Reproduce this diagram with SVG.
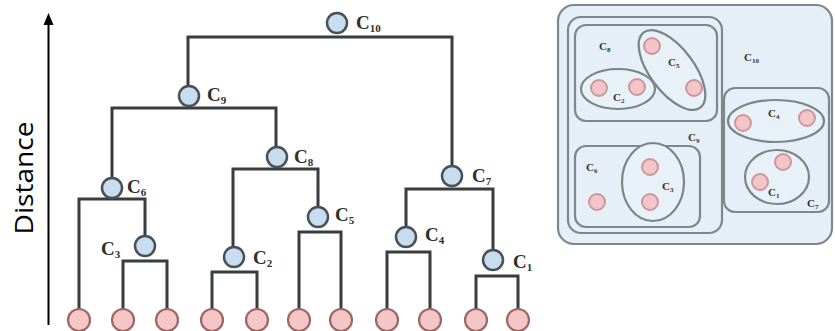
<svg xmlns="http://www.w3.org/2000/svg" width="835" height="331" viewBox="0 0 835 331">
<defs>
<style>
.ln{stroke:#3a3d40;stroke-width:3;fill:none;stroke-linecap:square}
.in{fill:#c8def0;stroke:#4a5056;stroke-width:2.5}
.lf{fill:#f5c6c8;stroke:#9c6864;stroke-width:2.2}
.lbl{font-family:"Liberation Serif",serif;font-weight:bold;font-size:19px;fill:#2e2e2e}
.sub{font-size:11px}
.box{fill:#e6eff7;stroke:#7d888c;stroke-width:2.2}
.ell{fill:#e9f1f8;stroke:#7a8588;stroke-width:2.2}
.dot{fill:#f3c4c9;stroke:#c99898;stroke-width:2}
.sl{font-family:"Liberation Serif",serif;font-weight:bold;font-size:11px;fill:#333}
.ss{font-size:7px}
</style>
</defs>
<rect width="835" height="331" fill="#fff"/>

<g id="axis">
<line x1="48.5" y1="325" x2="48.5" y2="25" stroke="#000" stroke-width="2"/>
<path d="M48.5,13 L53.5,25 L43.5,25 Z" fill="#000"/>
<text transform="translate(33,178) rotate(-90)" text-anchor="middle" font-family="'Open Sans',sans-serif" font-size="26" fill="#000" textLength="113" lengthAdjust="spacingAndGlyphs">Distance</text>
</g>

<g id="connectors">
<path class="ln" d="M188,86 V37 H452 V166"/>
<path class="ln" d="M112,178 V108 H276 V147"/>
<path class="ln" d="M233,247 V169 H318 V207"/>
<path class="ln" d="M79,309 V199 H145 V236"/>
<path class="ln" d="M123,309 V261 H167 V309"/>
<path class="ln" d="M212,309 V272 H257 V309"/>
<path class="ln" d="M299,309 V232 H341 V309"/>
<path class="ln" d="M406,227 V189 H493 V250"/>
<path class="ln" d="M387,309 V252 H430 V309"/>
<path class="ln" d="M476,309 V276 H518 V309"/>
</g>

<g id="C10"><circle class="in" cx="337" cy="23" r="10"/><text class="lbl" x="356" y="29">C<tspan class="sub" dy="3">10</tspan></text></g>
<g id="C9"><circle class="in" cx="189" cy="96" r="10"/><text class="lbl" x="207" y="101">C<tspan class="sub" dy="3">9</tspan></text></g>
<g id="C8"><circle class="in" cx="277" cy="157" r="10"/><text class="lbl" x="294" y="163">C<tspan class="sub" dy="3">8</tspan></text></g>
<g id="C6"><circle class="in" cx="112" cy="188" r="10"/><text class="lbl" x="127" y="193">C<tspan class="sub" dy="3">6</tspan></text></g>
<g id="C7"><circle class="in" cx="452" cy="176" r="10"/><text class="lbl" x="472" y="182">C<tspan class="sub" dy="3">7</tspan></text></g>
<g id="C5"><circle class="in" cx="318" cy="217" r="10"/><text class="lbl" x="335" y="221">C<tspan class="sub" dy="3">5</tspan></text></g>
<g id="C3"><circle class="in" cx="145" cy="246" r="10"/><text class="lbl" x="101" y="255">C<tspan class="sub" dy="3">3</tspan></text></g>
<g id="C4"><circle class="in" cx="406" cy="237" r="10"/><text class="lbl" x="425" y="241">C<tspan class="sub" dy="3">4</tspan></text></g>
<g id="C2"><circle class="in" cx="234" cy="257" r="10"/><text class="lbl" x="253" y="264">C<tspan class="sub" dy="3">2</tspan></text></g>
<g id="C1"><circle class="in" cx="493" cy="260" r="10"/><text class="lbl" x="513" y="268">C<tspan class="sub" dy="3">1</tspan></text></g>

<g id="leaves">
<circle class="lf" cx="79" cy="320" r="11"/>
<circle class="lf" cx="123" cy="320" r="11"/>
<circle class="lf" cx="167" cy="320" r="11"/>
<circle class="lf" cx="212" cy="320" r="11"/>
<circle class="lf" cx="257" cy="320" r="11"/>
<circle class="lf" cx="299" cy="320" r="11"/>
<circle class="lf" cx="341" cy="320" r="11"/>
<circle class="lf" cx="387" cy="320" r="11"/>
<circle class="lf" cx="430" cy="320" r="11"/>
<circle class="lf" cx="476" cy="320" r="11"/>
<circle class="lf" cx="518" cy="320" r="11"/>
</g>

<g id="sets">
<rect class="box" x="558" y="5" width="274" height="239" rx="16" stroke-width="2.6"/>
<text class="sl" x="744" y="61">C<tspan class="ss" dy="2">10</tspan></text>
<rect class="box" x="568" y="17" width="154" height="216" rx="13" stroke-width="2.8"/>
<text class="sl" x="688" y="141">C<tspan class="ss" dy="2">9</tspan></text>
<rect class="box" x="575" y="25" width="142" height="96" rx="11"/>
<text class="sl" x="599" y="50">C<tspan class="ss" dy="2">8</tspan></text>
<ellipse class="ell" cx="618" cy="89" rx="37" ry="20"/>
<circle class="dot" cx="599" cy="88" r="8"/>
<circle class="dot" cx="637" cy="87" r="8"/>
<text class="sl" x="613" y="101">C<tspan class="ss" dy="2">2</tspan></text>
<ellipse class="ell" cx="672" cy="70" rx="47" ry="22" transform="rotate(53 672 70)"/>
<circle class="dot" cx="652" cy="46" r="8"/>
<circle class="dot" cx="694" cy="88" r="8"/>
<text class="sl" x="668" y="66">C<tspan class="ss" dy="2">5</tspan></text>
<rect class="box" x="575" y="146" width="125" height="81" rx="11"/>
<text class="sl" x="586" y="171">C<tspan class="ss" dy="2">6</tspan></text>
<circle class="dot" cx="597" cy="202" r="8"/>
<ellipse class="ell" cx="653" cy="182" rx="31" ry="39"/>
<circle class="dot" cx="650" cy="167" r="8"/>
<circle class="dot" cx="650" cy="202" r="8"/>
<text class="sl" x="662" y="190">C<tspan class="ss" dy="2">3</tspan></text>
<rect class="box" x="724" y="88" width="105" height="124" rx="11"/>
<text class="sl" x="807" y="207">C<tspan class="ss" dy="2">7</tspan></text>
<ellipse class="ell" cx="776" cy="121" rx="48" ry="21"/>
<circle class="dot" cx="743" cy="123" r="8"/>
<circle class="dot" cx="807" cy="118" r="8"/>
<text class="sl" x="768" y="117">C<tspan class="ss" dy="2">4</tspan></text>
<ellipse class="ell" cx="777" cy="177" rx="32" ry="27"/>
<circle class="dot" cx="783" cy="162" r="8"/>
<circle class="dot" cx="760" cy="182" r="8"/>
<text class="sl" x="768" y="196">C<tspan class="ss" dy="2">1</tspan></text>
</g>
</svg>
